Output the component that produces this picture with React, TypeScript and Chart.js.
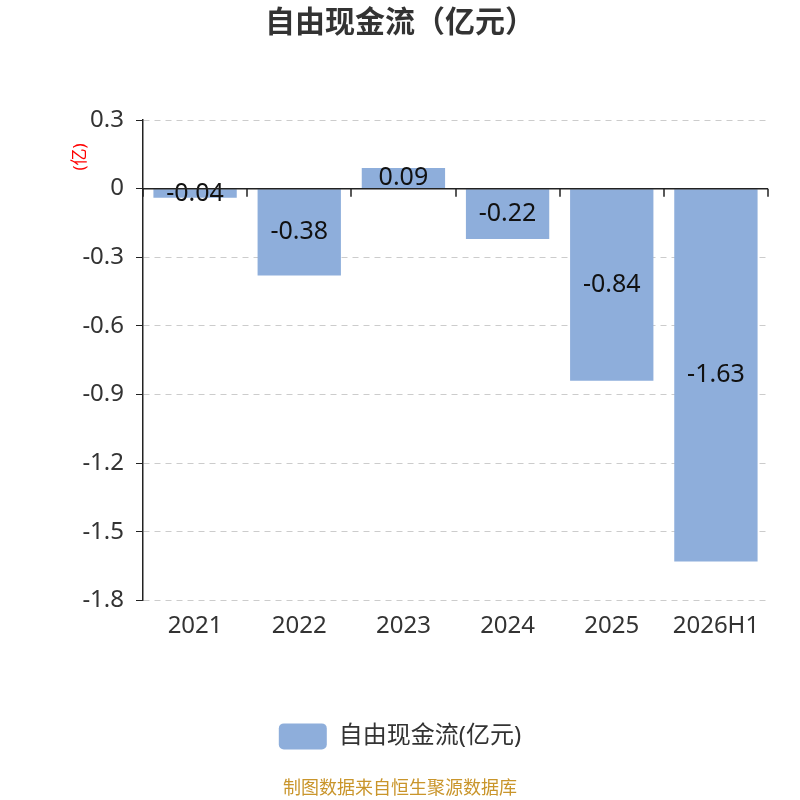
import React, { useEffect, useRef } from "react";
import { Chart, registerables } from "chart.js";

Chart.register(...registerables);

const categories = ["2021", "2022", "2023", "2024", "2025", "2026H1"];
const freeCashFlow = [-0.04, -0.38, 0.09, -0.22, -0.84, -1.63];
const yTicks = [0.3, 0, -0.3, -0.6, -0.9, -1.2, -1.5, -1.8];

const FONT = "'Noto Sans', 'Noto Sans CJK SC', sans-serif";

// value labels in the middle of each bar
const barLabels = {
  id: "barLabels",
  afterDatasetsDraw(chart: any) {
    const ctx = chart.ctx;
    const meta = chart.getDatasetMeta(0);
    ctx.save();
    ctx.font = `25px ${FONT}`;
    ctx.fillStyle = "#111";
    ctx.textAlign = "center";
    ctx.textBaseline = "middle";
    meta.data.forEach((bar: any, i: number) => {
      const v = chart.data.datasets[0].data[i];
      ctx.fillText(v.toFixed(2), bar.x, (bar.y + bar.base) / 2);
    });
    ctx.restore();
  },
};

// black zero line with category boundary ticks, plus the small unit title
const zeroAxis = {
  id: "zeroAxis",
  afterDatasetsDraw(chart: any) {
    const { ctx, chartArea, scales } = chart;
    const y0 = scales.y.getPixelForValue(0);
    const x = scales.x;
    const half = (x.getPixelForValue(1) - x.getPixelForValue(0)) / 2;
    ctx.save();
    ctx.strokeStyle = "#222";
    ctx.lineWidth = 1.5;
    ctx.beginPath();
    ctx.moveTo(chartArea.left, y0);
    ctx.lineTo(chartArea.right, y0);
    for (let i = 0; i <= categories.length; i++) {
      const px = Math.round(x.getPixelForValue(i) - half);
      ctx.moveTo(px, y0);
      ctx.lineTo(px, y0 + 8);
    }
    ctx.stroke();

    ctx.translate(chartArea.left - 63, chartArea.top + 37);
    ctx.rotate(-Math.PI / 2);
    ctx.font = `17px ${FONT}`;
    ctx.fillStyle = "#ff0000";
    ctx.textAlign = "center";
    ctx.textBaseline = "middle";
    ctx.fillText("(亿)", 0, 0);
    ctx.restore();
  },
};

const App: React.FC = () => {
  const chartRef = useRef<HTMLCanvasElement | null>(null);

  useEffect(() => {
    document.body.style.margin = "0";
    if (!chartRef.current) return;
    const chart = new Chart(chartRef.current, {
      type: "bar",
      data: {
        labels: categories,
        datasets: [
          {
            label: "自由现金流(亿元)",
            data: freeCashFlow,
            backgroundColor: "#8eaedb",
            barPercentage: 0.8,
            categoryPercentage: 1.0,
          },
        ],
      },
      options: {
        animation: false,
        responsive: false,
        layout: { padding: 0 },
        plugins: {
          title: {
            display: true,
            text: "自由现金流（亿元）",
            color: "#333",
            font: { family: FONT, size: 30, weight: "bold" },
            padding: { top: 5, bottom: 79 },
          },
          subtitle: {
            display: true,
            position: "bottom",
            text: "制图数据来自恒生聚源数据库",
            color: "#c9952b",
            font: { family: FONT, size: 18 },
            padding: { top: 19, bottom: 0 },
          },
          legend: {
            position: "bottom",
            labels: {
              boxWidth: 48,
              boxHeight: 26,
              useBorderRadius: true,
              borderRadius: 5,
              color: "#333",
              font: { family: FONT, size: 24 },
              padding: 10,
            },
          },
          tooltip: { enabled: false },
        },
        scales: {
          x: {
            grid: { display: false, drawTicks: false },
            border: { display: false },
            ticks: {
              color: "#333",
              font: { family: FONT, size: 24 },
              padding: 11,
            },
            afterFit: (s: any) => {
              s.height = 113;
            },
          },
          y: {
            min: -1.8,
            max: 0.3,
            afterBuildTicks: (s: any) => {
              s.ticks = yTicks.map((v) => ({ value: v }));
            },
            afterFit: (s: any) => {
              s.width = 143;
            },
            grid: {
              color: "#cccccc",
              tickColor: "#222",
              tickLength: 7,
              lineWidth: 1,
            },
            border: { display: true, color: "#222", width: 1.5, dash: [6, 5] },
            ticks: {
              color: "#333",
              font: { family: FONT, size: 24 },
              padding: 12,
              callback: (v: any) => String(Number(Number(v).toFixed(1))),
            },
          },
          // empty right-hand gutter so title and legend stay centred on the page
          gutter: {
            type: "linear",
            position: "right",
            display: true,
            grid: { display: false },
            border: { display: false },
            ticks: { display: false },
            afterFit: (s: any) => {
              s.width = 32;
            },
          },
        },
      },
      plugins: [barLabels, zeroAxis],
    });
    return () => chart.destroy();
  }, []);

  return (
    <div style={{ width: 800, height: 800 }}>
      <canvas ref={chartRef} width={800} height={800} />
    </div>
  );
};

export default App;
